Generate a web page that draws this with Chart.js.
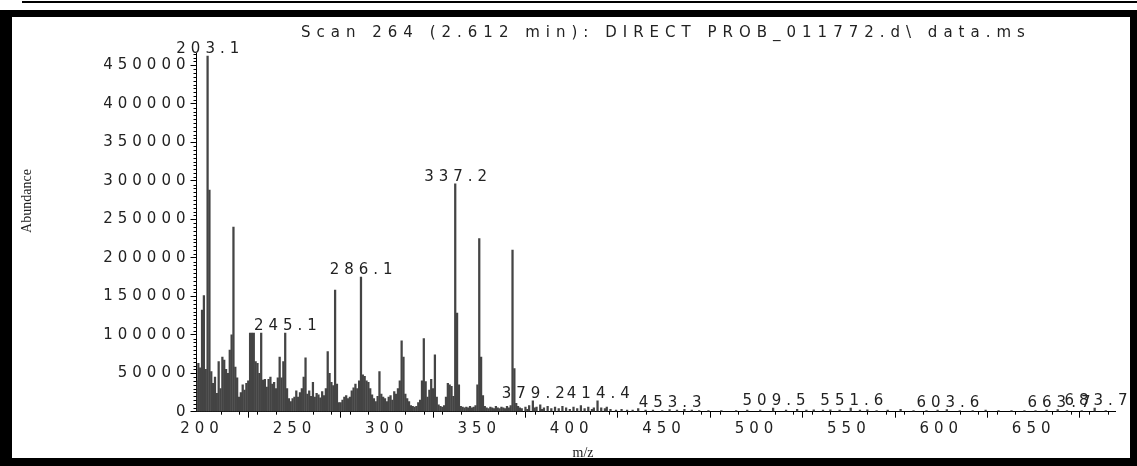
<!DOCTYPE html>
<html>
<head>
<meta charset="utf-8">
<script src="https://cdn.jsdelivr.net/npm/chart.js@4.4.1/dist/chart.umd.min.js"></script>
<style>
  html, body { margin: 0; padding: 0; background: #fff; }
  #wrap { position: relative; width: 1137px; height: 466px; }
</style>
</head>
<body>
<div id="wrap"><canvas id="espectro" width="1137" height="466"></canvas></div>
<script>
// Espectro de massa (m/z e abundancia)
const massas = [
  197, 198, 199, 200, 201, 202, 203, 204, 205, 206, 207, 208, 209, 210, 211, 212, 213, 214, 215, 216,
  217, 218, 219, 220, 221, 222, 223, 224, 225, 226, 227, 228, 229, 230, 231, 232, 233, 234, 235, 236,
  237, 238, 239, 240, 241, 242, 243, 244, 245, 246, 247, 248, 249, 250, 251, 252, 253, 254, 255, 256,
  257, 258, 259, 260, 261, 262, 263, 264, 265, 266, 267, 268, 269, 270, 271, 272, 273, 274, 275, 276,
  277, 278, 279, 280, 281, 282, 283, 284, 285, 286, 287, 288, 289, 290, 291, 292, 293, 294, 295, 296,
  297, 298, 299, 300, 301, 302, 303, 304, 305, 306, 307, 308, 309, 310, 311, 312, 313, 314, 315, 316,
  317, 318, 319, 320, 321, 322, 323, 324, 325, 326, 327, 328, 329, 330, 331, 332, 333, 334, 335, 336,
  337, 338, 339, 340, 341, 342, 343, 344, 345, 346, 347, 348, 349, 350, 351, 352, 353, 354, 355, 356,
  357, 358, 359, 360, 361, 362, 363, 364, 365, 366, 367, 368, 369, 370, 371, 372,
  373, 375, 376, 377, 379, 380, 381, 383, 384, 385, 387, 389, 391, 393, 395, 397, 399, 401, 403, 405,
  407, 409, 411, 412, 414, 416, 418, 419, 421, 424, 427, 430, 433, 436, 440, 444, 449, 453, 457, 461,
  465, 469, 474, 481, 489, 495, 502, 509, 516, 522, 527, 531, 536, 540, 545, 551, 556, 560, 565, 571,
  578, 585, 592, 598, 603, 610, 617, 624, 631, 638, 645, 651, 657, 663, 668, 676, 683, 689
];
const abundancias = [
  40000, 63000, 57000, 132000, 151000, 55000, 462000, 288000, 52000, 37000, 45000, 24000, 65000, 30000, 71000, 67000, 55000, 50000, 80000, 100000,
  240000, 58000, 44000, 19000, 25000, 35000, 28000, 37000, 40000, 102000, 102000, 102000, 65000, 63000, 50000, 102000, 41000, 42000, 32000, 42000,
  45000, 36000, 38000, 30000, 44000, 71000, 44000, 65000, 102000, 30000, 17000, 13000, 17000, 19000, 27000, 19000, 25000, 30000, 45000, 70000,
  23000, 27000, 20000, 38000, 19000, 24000, 22000, 18000, 26000, 21000, 30000, 78000, 50000, 38000, 34000, 158000, 36000, 12000, 12000, 15000,
  19000, 21000, 17000, 19000, 27000, 31000, 36000, 30000, 40000, 175000, 48000, 46000, 40000, 38000, 30000, 22000, 17000, 13000, 20000, 52000,
  23000, 19000, 17000, 13000, 19000, 21000, 15000, 26000, 23000, 30000, 40000, 92000, 71000, 23000, 17000, 13000, 8000, 7000, 6000, 7000,
  12000, 15000, 40000, 95000, 39000, 19000, 28000, 42000, 30000, 74000, 19000, 9000, 7000, 6000, 8000, 19000, 37000, 35000, 33000, 20000,
  296000, 128000, 35000, 7000, 6000, 5000, 6000, 5000, 7000, 5000, 6000, 8000, 35000, 225000, 71000, 21000, 7000, 5000, 4000, 6000,
  5000, 4000, 7000, 5000, 4000, 6000, 5000, 4000, 7000, 5000, 8000, 210000, 56000, 11000, 7000, 5000,
  4000, 6000, 3000, 8000, 14000, 5000, 6000, 9000, 3000, 5000, 7000, 4000, 6000, 4000, 7000, 5000, 3000, 6000, 4000, 8000,
  4000, 6000, 3000, 5000, 14000, 5000, 4000, 6000, 3000, 2000, 3000, 2000, 2000, 4000, 2000, 2000, 1500, 2600, 2000, 3000,
  2000, 1500, 1500, 1500, 1500, 2000, 2000, 4800, 2000, 3000, 2000, 2500, 2000, 2500, 2000, 4800, 2000, 2500, 1500, 2000,
  3000, 1500, 1500, 2000, 2600, 1500, 1500, 2000, 1500, 1500, 1500, 1500, 2000, 2600, 1500, 1500, 4800, 1500
];
// Picos anotados
const rotulosPicos = ['203.1', '245.1', '286.1', '337.2', '379.2', '414.4', '453.3', '509.5', '551.6', '603.6', '663.7', '683.7'];
// Marcas dos eixos
const ticksX = [200, 250, 300, 350, 400, 450, 500, 550, 600, 650];
const ticksY = [0, 50000, 100000, 150000, 200000, 250000, 300000, 350000, 400000, 450000];
const titulo = 'Scan 264 (2.612 min): DIRECT PROB_011772.d\\ data.ms';

const fonteTexto = '"DejaVu Sans", sans-serif';
const espaco = '5px';

// Plugin: moldura, titulo, rotulos dos eixos, ticks menores e rotulos dos picos
const pluginEspectro = {
  id: 'espectro',
  beforeDraw(chart) {
    const ctx = chart.ctx;
    ctx.fillStyle = '#fff';
    ctx.fillRect(0, 0, chart.width, chart.height);
    ctx.letterSpacing = espaco;
  },
  afterDraw(chart) {
    const ctx = chart.ctx;
    const x = chart.scales.x;
    const y = chart.scales.y;
    const area = chart.chartArea;

    ctx.save();
    // ticks menores
    ctx.strokeStyle = '#000';
    ctx.lineWidth = 1;
    ctx.beginPath();
    for (let v = 5000; v <= y.max; v += 5000) {
      if (v % 50000 === 0) continue;
      const py = Math.round(y.getPixelForValue(v)) + 0.5;
      ctx.moveTo(area.left - 3, py);
      ctx.lineTo(area.left, py);
    }
    for (let m = 200; m <= x.max; m += 10) {
      if (m % 50 === 0) continue;
      const px = Math.round(x.getPixelForValue(m)) + 0.5;
      ctx.moveTo(px, area.bottom);
      ctx.lineTo(px, area.bottom + 3);
    }
    ctx.stroke();

    // rotulos dos picos
    ctx.font = '15px ' + fonteTexto;
    ctx.fillStyle = '#222';
    ctx.textAlign = 'center';
    ctx.textBaseline = 'alphabetic';
    ctx.letterSpacing = espaco;
    rotulosPicos.forEach(r => {
      const m = parseFloat(r);
      const i = massas.indexOf(Math.floor(m));
      const v = i >= 0 ? abundancias[i] : 0;
      ctx.fillText(r, x.getPixelForValue(m) + 2.5, y.getPixelForValue(v) - 3);
    });

    // titulo
    ctx.textAlign = 'left';
    ctx.letterSpacing = '6px';
    ctx.fillText(titulo, 301, 37);

    // rotulos dos eixos
    ctx.letterSpacing = '0px';
    ctx.font = '14px "Liberation Serif", serif';
    ctx.textAlign = 'center';
    ctx.fillText('m/z', 583, 457);
    ctx.save();
    ctx.translate(31, 201);
    ctx.rotate(-Math.PI / 2);
    ctx.fillText('Abundance', 0, 0);
    ctx.restore();

    // moldura
    ctx.fillStyle = '#000';
    ctx.fillRect(22, 1, 1115, 2);
    ctx.fillRect(0, 10, 1137, 7);
    ctx.fillRect(0, 10, 12, 456);
    ctx.fillRect(1130, 10, 7, 456);
    ctx.fillRect(0, 458, 1137, 8);
    ctx.restore();
  }
};

const grafico = new Chart(document.getElementById('espectro'), {
  type: 'bar',
  data: {
    datasets: [{
      data: massas.map((m, i) => ({ x: m, y: abundancias[i] })),
      backgroundColor: '#444',
      barThickness: 1.6,
      grouped: false
    }]
  },
  options: {
    responsive: false,
    animation: false,
    devicePixelRatio: 1,
    layout: { padding: { left: 0, right: 22, top: 53, bottom: 0 } },
    plugins: {
      legend: { display: false },
      tooltip: { enabled: false },
      title: { display: false }
    },
    scales: {
      x: {
        type: 'linear',
        min: 197,
        max: 694,
        offset: false,
        afterBuildTicks: s => { s.ticks = ticksX.map(v => ({ value: v })); },
        afterFit: s => { s.height = 54.3; },
        grid: { drawOnChartArea: false, tickLength: 6, tickColor: '#000' },
        border: { color: '#000', width: 1 },
        ticks: {
          autoSkip: false,
          maxRotation: 0,
          padding: 2,
          color: '#222',
          font: { family: fonteTexto, size: 15 },
          callback: v => String(v)
        }
      },
      y: {
        min: 0,
        max: 466000,
        afterBuildTicks: s => { s.ticks = ticksY.map(v => ({ value: v })); },
        afterFit: s => { s.width = 196.5; },
        grid: { drawOnChartArea: false, tickLength: 6, tickColor: '#000' },
        border: { color: '#000', width: 1 },
        ticks: {
          autoSkip: false,
          padding: 0,
          color: '#222',
          font: { family: fonteTexto, size: 15 },
          callback: v => String(v)
        }
      }
    }
  },
  plugins: [pluginEspectro]
});
</script>
</body>
</html>
